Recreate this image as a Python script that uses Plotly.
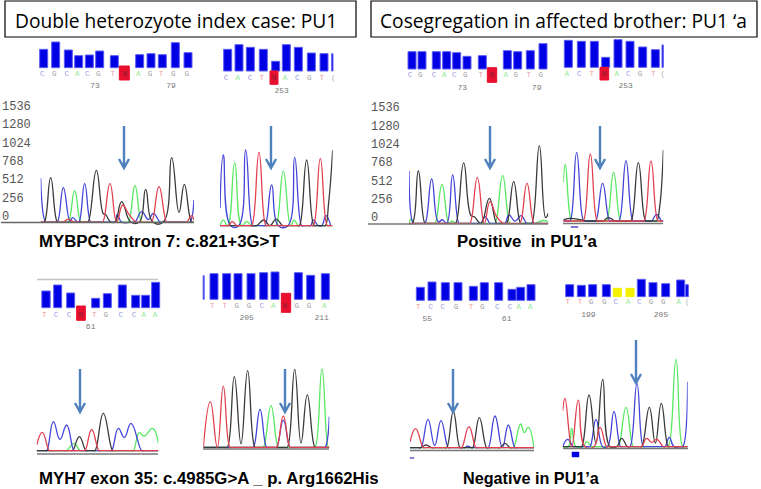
import plotly.graph_objects as go

W, H = 761, 489
RFU_PER_ZOOM = 4.66
INK = {"black": "#3a3a3a", "blue": "#4444d8", "green": "#55e860", "red": "#e2404f"}
LETTER_INK = {"C": "#9c9ce8", "G": "#a0a0a0", "A": "#96ea96", "T": "#ec9c9c", "N": "#802030", "(": "#b0b0b0"}

TICKS = [0, 256, 512, 768, 1024, 1280, 1536]
TITLE_1 = "Double heterozyote index case: PU1"
TITLE_2 = "Cosegregation in affected brother: PU1 ‘a"
CAPTION_1 = "MYBPC3 intron 7: c.821+3G>T"
CAPTION_2 = "Positive  in PU1’a"
CAPTION_3 = "MYH7 exon 35: c.4985G>A _ p. Arg1662His"
CAPTION_4 = "Negative in PU1’a"

# ---- quality bars: position along the read, quality height, base letters
QA_X = [131, 167, 205, 236, 268, 299, 343, 373, 419, 453, 487, 526, 564]
QA_Y = [55, 77, 53, 36, 38, 50, 36, 42, 39, 42, 39, 75, 45]
QA_LX = [127, 163, 200, 232, 262, 295, 338, 375, 415, 450, 483, 520, 560]
QA_L = list("CGCACGTNAGTGG")
QA_NX = [285, 513]
QA_N = ["73", "79"]

QB_X = [683, 717, 751, 790, 827, 859, 895, 934, 972, 997]
QB_Y = [65, 79, 71, 65, 29, 79, 71, 54, 52, 52]
QB_LX = [678, 713, 750, 785, 822, 855, 892, 928, 965, 1000]
QB_L = list("CACTNACGT(")
QB_NX = [845]
QB_N = ["253"]

QC_X = [156, 186, 229, 260, 290, 321, 367, 396, 442, 473, 511, 549]
QC_Y = [52, 52, 52, 52, 49, 38, 40, 44, 55, 52, 55, 76]
QC_LX = [150, 181, 222, 253, 283, 316, 362, 396, 437, 467, 506, 542]
QC_L = list("CGCACGTNAGTG")
QC_NX = [307, 530]
QC_N = ["73", "79"]

QD_X = [625, 664, 703, 737, 774, 810, 848, 886, 908]
QD_Y = [81, 78, 78, 30, 83, 78, 61, 53, 67]
QD_LX = [620, 658, 695, 733, 770, 805, 840, 880, 908]
QD_L = list("ACTNACGT(")
QD_NX = [797]
QD_N = ["253"]

QE_X = [138, 173, 212, 243, 287, 322, 367, 407, 437, 467]
QE_Y = [50, 68, 44, 43, 28, 42, 68, 37, 37, 76]
QE_LX = [133, 168, 207, 242, 283, 317, 362, 402, 431, 465]
QE_L = list("TCCNTGCCAA")
QE_NX = [272]
QE_N = ["61"]

QF_X = [611, 642, 680, 714, 753, 791, 825, 858, 895, 932, 976]
QF_Y = [71, 77, 77, 77, 77, 80, 82, 57, 80, 72, 77]
QF_LX = [637, 674, 710, 747, 785, 820, 855, 890, 927, 973]
QF_L = list("TTGGCANGGA")
QF_NX = [740, 965]
QF_N = ["205", "211"]

QG_X = [91, 126, 166, 204, 250, 283, 326, 366, 392, 423]
QG_Y = [39, 55, 53, 53, 42, 53, 53, 33, 39, 47]
QG_LX = [85, 122, 158, 198, 243, 277, 322, 360, 386, 421]
QG_L = list("TCCGTGCCAA")
QG_NX = [112, 350]
QG_N = ["55", "61"]

QH_X = [539, 574, 608, 649, 682, 720, 754, 789, 827, 872, 891]
QH_Y = [36, 34, 36, 36, 25, 25, 52, 42, 39, 50, 36]
QH_LX = [533, 570, 603, 643, 677, 714, 748, 783, 820, 866, 892]
QH_L = list("TTGGCACGGA(")
QH_NX = [595, 813]
QH_N = ["199", "205"]

# ---- chromatograms: (scan position, signal in RFU) per dye
A_BLACK = [(122,-75),(127,-75),(133,-75),(152,545),(172,-75),(178,-75),(258,-75),(264,-75),(289,648),(310,40),(316,33),(332,-75),(345,-75),(365,210),(392,-75),(418,-75),(437,382),(458,-75),(490,-75),(515,825),(537,60),(553,452),(575,-75),(582,-75)]
A_BLUE = [(122,536),(137,-75),(143,-75),(166,-75),(172,-75),(190,405),(210,-60),(218,-14),(232,-75),(237,-75),(254,461),(272,-75),(278,-75),(338,-75),(345,-75),(352,33),(365,-75),(398,-75),(405,-75),(425,70),(445,-40),(460,47),(480,-75),(486,-75),(563,-75),(570,-75),(582,233)]
A_GREEN = [(122,-75),(198,-75),(205,-75),(224,363),(243,-75),(250,-75),(378,-75),(385,-75),(405,433),(425,-75),(432,-75),(582,-75)]
A_RED = [(122,-75),(184,-75),(190,-75),(205,-33),(222,-75),(228,-75),(302,-75),(308,-75),(330,461),(350,-75),(368,163),(385,47),(408,-75),(414,-75),(449,-75),(455,-75),(477,419),(500,-75),(506,-75),(554,-75),(560,-75),(575,14),(582,-50)]

B_BLACK = [(660,-126),(764,-126),(770,-126),(792,-47),(810,-126),(828,-33),(848,-126),(854,-126),(892,-126),(898,-126),(920,792),(942,-126),(948,-126),(970,-126),(976,-126),(986,200),(998,932)]
B_BLUE = [(660,117),(670,862),(692,-126),(716,-126),(737,932),(758,-126),(764,-126),(789,-126),(795,-126),(815,443),(835,-126),(864,-126),(884,830),(905,-126),(911,-126),(925,-126),(932,-126),(940,-47),(955,-126),(965,-126),(978,14),(992,-126)]
B_GREEN = [(660,-126),(670,-47),(683,-126),(704,755),(725,-126),(740,-70),(755,-126),(761,-126),(822,-126),(828,-126),(850,638),(872,-126),(882,-47),(895,-126),(901,-126),(998,-126)]
B_RED = [(660,-126),(680,-126),(685,-126),(697,-70),(710,-126),(716,-126),(749,-126),(755,-126),(777,899),(798,-126),(804,-126),(934,-126),(940,-126),(961,815),(982,-126),(988,-126),(998,-126)]

C_BLACK = [(162,-70),(172,-70),(190,662),(210,-70),(216,-70),(296,-70),(302,-70),(326,774),(348,40),(358,23),(378,-70),(403,280),(425,-70),(431,-70),(449,-70),(455,-70),(476,513),(497,-70),(503,-70),(524,-70),(530,-70),(553,1016),(572,10),(580,70)]
C_BLUE = [(162,662),(175,-70),(181,-70),(204,-70),(210,-70),(230,550),(250,-50),(262,-20),(275,-70),(293,606),(312,-70),(318,-70),(372,-70),(378,-70),(390,23),(405,-70),(411,-70),(444,-70),(450,-70),(462,47),(480,-40),(498,37),(515,-70),(521,-70),(580,-70)]
C_GREEN = [(162,-70),(168,-10),(178,-70),(184,-70),(234,-70),(240,-70),(261,475),(282,-70),(290,-40),(305,-70),(311,-70),(414,-70),(420,-70),(443,596),(465,-70),(471,-70),(534,-70),(540,-70),(565,-30),(580,-50)]
C_RED = [(162,-70),(339,-70),(345,-70),(367,568),(388,-70),(405,233),(425,23),(445,-70),(451,-70),(489,-70),(495,-70),(516,489),(537,-70),(543,-70),(580,-70)]

D_BLACK = [(625,-20),(650,0),(694,-37),(700,-37),(739,-37),(745,-37),(760,9),(780,-37),(786,-37),(822,-37),(828,-37),(850,778),(872,-37),(878,-37),(899,-37),(905,-37),(914,160),(925,955)]
D_BLUE = [(625,-37),(639,-37),(645,-37),(665,923),(686,-37),(692,-37),(716,-37),(722,-37),(743,489),(764,-37),(770,-37),(786,-37),(792,-37),(813,806),(834,-37),(840,-37),(884,-37),(890,-37),(905,56),(920,-37),(925,-37)]
D_GREEN = [(625,500),(631,755),(650,-37),(656,-37),(749,-37),(755,-37),(776,643),(797,-37),(803,-37),(925,-37)]
D_RED = [(625,-37),(679,-37),(685,-37),(706,899),(727,-37),(733,-37),(861,-37),(867,-37),(888,802),(909,-37),(915,-37),(925,-37)]

E_BLACK = [(110,0),(212,0),(218,0),(238,196),(258,0),(264,0),(279,0),(285,0),(310,522),(338,0),(344,0),(475,0)]
E_BLUE = [(110,0),(134,0),(140,0),(160,405),(180,158),(200,359),(222,0),(228,0),(329,0),(335,0),(355,312),(373,186),(393,382),(425,0),(431,0),(475,0)]
E_GREEN = [(110,0),(194,0),(200,0),(222,103),(240,0),(246,0),(394,0),(400,0),(418,252),(432,205),(458,312),(475,103)]
E_RED = [(110,79),(127,256),(148,0),(154,0),(249,0),(255,0),(275,298),(297,0),(303,0),(475,0)]

F_BLACK = [(610,0),(676,0),(682,0),(703,988),(723,50),(743,1072),(765,0),(771,0),(856,0),(862,0),(884,1090),(903,60),(922,732),(945,0),(951,0),(988,0)]
F_BLUE = [(610,0),(754,0),(760,0),(780,531),(800,0),(806,0),(824,0),(830,0),(850,380),(870,0),(876,0),(969,0),(975,0),(988,429)]
F_GREEN = [(610,0),(784,0),(790,0),(813,582),(835,0),(841,0),(939,0),(945,0),(966,1095),(985,0),(988,0)]
F_RED = [(610,0),(631,638),(652,0),(670,857),(690,0),(696,0),(824,0),(830,0),(850,438),(870,0),(876,0),(988,0)]

G_BLACK = [(60,0),(86,0),(92,0),(108,37),(125,0),(131,0),(164,0),(170,0),(190,503),(210,0),(216,0),(242,0),(248,0),(268,419),(290,0),(296,0),(324,0),(330,0),(345,61),(360,0),(366,0),(432,0)]
G_BLUE = [(60,0),(87,0),(93,0),(114,396),(134,30),(153,377),(175,0),(181,0),(219,0),(225,0),(232,20),(245,0),(251,0),(289,0),(295,0),(315,443),(337,0),(355,317),(375,0),(381,0),(432,0)]
G_GREEN = [(60,0),(364,0),(370,0),(392,331),(403,210),(415,284),(432,0)]
G_RED = [(60,80),(77,266),(100,0),(106,0),(209,0),(215,0),(237,294),(258,0),(264,0),(432,0)]

H_BLACK = [(518,0),(569,0),(575,0),(597,722),(618,50),(638,941),(660,0),(680,0),(695,117),(712,0),(718,0),(749,0),(755,0),(778,550),(796,50),(814,606),(835,0),(841,0),(893,0)]
H_BLUE = [(518,0),(533,103),(550,0),(556,0),(594,0),(600,0),(618,382),(638,0),(652,0),(672,489),(692,0),(698,0),(714,0),(720,0),(741,885),(760,0),(766,0),(819,0),(825,0),(838,130),(852,0),(872,0),(878,0),(893,909)]
H_GREEN = [(518,0),(535,0),(545,256),(558,0),(580,0),(590,70),(605,0),(611,0),(679,0),(685,0),(708,550),(730,0),(736,0),(829,0),(835,0),(858,1221),(878,0),(884,0),(893,0)]
H_RED = [(518,500),(525,676),(545,0),(565,652),(585,0),(612,0),(630,270),(650,0),(656,0),(749,0),(755,0),(770,117),(785,60),(800,103),(820,0),(826,0),(893,0)]

fig = go.Figure()
layout_axes = {}
axis_no = [0]


def new_axes(x0, x1, y_top, y_bot, xr, yr):
    axis_no[0] += 1
    n = axis_no[0]
    sx = "" if n == 1 else str(n)
    common = dict(visible=False, fixedrange=True, showgrid=False, zeroline=False)
    layout_axes["xaxis" + sx] = dict(domain=[x0 / W, x1 / W], range=xr, anchor="y" + sx, **common)
    layout_axes["yaxis" + sx] = dict(domain=[1 - y_bot / H, 1 - y_top / H], range=yr, anchor="x" + sx, **common)
    return "x" + sx, "y" + sx


def quality_panel(ox, oy, zero, xmin, xmax, xs, ys, lx, letters, ly, nx, nums, ny,
                  colors=None, bases=None, widths=None, call_box=None):
    xa, ya = new_axes(ox + xmin / 3, ox + xmax / 3, oy + (zero - 110) / 3, oy + (zero + 75) / 3, [xmin, xmax], [-75, 110])
    colors = colors or {}
    bases = bases or {}
    widths = widths or {}
    n = len(xs)
    fig.add_trace(go.Bar(
        x=xs, y=ys, xaxis=xa, yaxis=ya,
        base=[bases.get(i, 0) for i in range(n)],
        width=[widths.get(i, 24) for i in range(n)],
        marker=dict(color=[colors.get(i, "#0000e4") for i in range(n)],
                    line=dict(color=[colors.get(i, "#5c5cf4") for i in range(n)], width=1)),
        showlegend=False, hoverinfo="skip"))
    if call_box:
        bx, depth, bw = call_box
        fig.add_trace(go.Bar(x=[bx], y=[depth], base=[-depth], width=[bw], xaxis=xa, yaxis=ya,
                             marker=dict(color="#e8102e", line=dict(color="#e8102e", width=1)),
                             showlegend=False, hoverinfo="skip"))
    fig.add_trace(go.Scatter(
        x=lx, y=[ly] * len(lx), xaxis=xa, yaxis=ya, mode="text", text=letters,
        textfont=dict(family="Liberation Mono", size=7.5, color=[LETTER_INK[c] for c in letters]),
        showlegend=False, hoverinfo="skip", cliponaxis=False))
    fig.add_trace(go.Scatter(
        x=nx, y=[ny] * len(nx), xaxis=xa, yaxis=ya, mode="text", text=nums,
        textfont=dict(family="Liberation Mono", size=8, color="#777777"),
        showlegend=False, hoverinfo="skip", cliponaxis=False))


def chrom_panel(ox, oy, zero, xmin, xmax, series):
    zero_px = oy + zero / 3
    top, bot = zero_px - 125, zero_px + 25
    k = RFU_PER_ZOOM * 3
    xa, ya = new_axes(ox + xmin / 3, ox + xmax / 3, top, bot, [xmin, xmax], [(zero_px - bot) * k, (zero_px - top) * k])
    for dye, pts in series:
        fig.add_trace(go.Scatter(
            x=[p[0] for p in pts], y=[p[1] for p in pts], xaxis=xa, yaxis=ya, mode="lines",
            line=dict(color=INK[dye], width=1.3, shape="spline", smoothing=1.3),
            showlegend=False, hoverinfo="skip", cliponaxis=False))


def tick_panel(x_px, zero_px):
    top, bot = zero_px - 125, zero_px + 25
    k = RFU_PER_ZOOM * 3
    xa, ya = new_axes(x_px, x_px + 32, top, bot, [0, 1], [(zero_px - bot) * k, (zero_px - top) * k])
    fig.add_trace(go.Scatter(
        x=[0] * len(TICKS), y=TICKS, xaxis=xa, yaxis=ya, mode="text",
        text=[str(t) for t in TICKS], textposition="middle right",
        textfont=dict(family="Liberation Mono", size=12, color="#555555"),
        showlegend=False, hoverinfo="skip", cliponaxis=False))


RED = "#e8102e"
YEL = "#f4f000"
quality_panel(0, 0, 203, 100, 600, QA_X, QA_Y, QA_LX, QA_L, -19, QA_NX, QA_N, -54,
              colors={7: RED}, bases={7: -37}, widths={7: 30})
quality_panel(0, 0, 213, 660, 1005, QB_X, QB_Y, QB_LX, QB_L, -22, QB_NX, QB_N, -59,
              widths={9: 4}, call_box=(822, 40, 24))
quality_panel(360, 0, 207, 130, 580, QC_X, QC_Y, QC_LX, QC_L, -19, QC_NX, QC_N, -58,
              colors={7: RED}, bases={7: -40}, widths={7: 28})
quality_panel(360, 0, 202, 600, 915, QD_X, QD_Y, QD_LX, QD_L, -21, QD_NX, QD_N, -56,
              widths={8: 4}, call_box=(733, 38, 26))
quality_panel(0, 260, 143, 110, 490, QE_X, QE_Y, QE_LX, QE_L, -22, QE_NX, QE_N, -57,
              colors={3: RED}, bases={3: -38}, widths={3: 26, 0: 25})
quality_panel(0, 260, 118, 600, 1000, QF_X, QF_Y, QF_LX, QF_L, -20, QF_NX, QF_N, -57,
              colors={7: RED}, bases={7: -39}, widths={0: 3, 7: 28})
quality_panel(390, 270, 91, 70, 440, QG_X, QG_Y, QG_LX, QG_L, -20, QG_NX, QG_N, -57)
quality_panel(390, 270, 80, 520, 900, QH_X, QH_Y, QH_LX, QH_L, -15, QH_NX, QH_N, -55,
              colors={4: YEL, 5: YEL}, widths={10: 8})

chrom_panel(0, 95, 365, 122, 582, [("green", A_GREEN), ("blue", A_BLUE), ("black", A_BLACK), ("red", A_RED)])
chrom_panel(0, 95, 365, 660, 998, [("green", B_GREEN), ("blue", B_BLUE), ("black", B_BLACK), ("red", B_RED)])
chrom_panel(355, 95, 370, 162, 580, [("green", C_GREEN), ("blue", C_BLUE), ("black", C_BLACK), ("red", C_RED)])
chrom_panel(355, 95, 370, 625, 925, [("green", D_GREEN), ("blue", D_BLUE), ("black", D_BLACK), ("red", D_RED)])
chrom_panel(0, 360, 272, 110, 475, [("green", E_GREEN), ("blue", E_BLUE), ("black", E_BLACK), ("red", E_RED)])
chrom_panel(0, 360, 262, 610, 988, [("green", F_GREEN), ("blue", F_BLUE), ("black", F_BLACK), ("red", F_RED)])
chrom_panel(390, 350, 293, 60, 432, [("green", G_GREEN), ("blue", G_BLUE), ("black", G_BLACK), ("red", G_RED)])
chrom_panel(390, 350, 290, 518, 893, [("green", H_GREEN), ("blue", H_BLUE), ("black", H_BLACK), ("red", H_RED)])

tick_panel(2, 217)
tick_panel(371, 218.3)

shapes = []


def px(x):
    return x / W


def py(y):
    return 1 - y / H


def rule(x0, x1, y, color, width=1.5):
    shapes.append(dict(type="line", xref="paper", yref="paper", x0=px(x0), x1=px(x1), y0=py(y), y1=py(y),
                       line=dict(color=color, width=width)))


def box(x0, x1, y0, y1, fill=None, line="#000000", width=1.2):
    shapes.append(dict(type="rect", xref="paper", yref="paper", x0=px(x0), x1=px(x1), y0=py(y0), y1=py(y1),
                       fillcolor=fill or "rgba(0,0,0,0)", line=dict(color=line, width=width)))


def arrow(x, y0, y1):
    path = (f"M {x / W},{1 - y0 / H} L {x / W},{1 - y1 / H} "
            f"M {(x - 5) / W},{1 - (y1 - 9) / H} L {x / W},{1 - y1 / H} L {(x + 5) / W},{1 - (y1 - 9) / H}")
    shapes.append(dict(type="path", xref="paper", yref="paper", path=path,
                       line=dict(color="#4f81bd", width=2.4)))


box(5, 356, 1, 37)
box(371, 757, 1, 37)
rule(1, 194, 222.5, "#666666")
rule(368, 548, 224, "#777777")
rule(563, 663, 223.5, "#777777")
rule(37, 158, 454, "#777777")
rule(203, 329, 449, "#777777")
rule(410, 534, 450.5, "#777777")
rule(563, 688, 448.5, "#777777")
rule(37, 158, 279.5, "#c4c4c4")
box(572, 579, 452, 457, fill="#0000e4", line="#0000e4", width=0.5)
box(410, 414, 457.5, 458.5, fill="#6060c0", line="#6060c0", width=0.5)
box(571, 578, 226.5, 227.5, fill="#5050c0", line="#5050c0", width=0.5)
for ax_x, a0, a1 in [(124, 126, 168), (271, 126, 168), (490, 126, 168), (600, 126, 168),
                     (80, 369, 412), (285, 369, 412), (453, 369, 412), (636, 340, 383)]:
    arrow(ax_x, a0, a1)


def label(text, x, y, size, bold=False, family="Open Sans"):
    return dict(text=f"<b>{text}</b>" if bold else text, x=px(x), y=py(y), xref="paper", yref="paper",
                xanchor="left", yanchor="middle", showarrow=False,
                font=dict(family=family, size=size, color="#000000"))


annotations = [
    label(TITLE_1, 13, 20, 19.2),
    label(TITLE_2, 378, 20, 19.2),
    label(CAPTION_1, 37, 242, 16.8, True, "Liberation Sans"),
    label(CAPTION_2, 455, 242, 16.8, True, "Liberation Sans"),
    label(CAPTION_3, 37, 478, 16.8, True, "Liberation Sans"),
    label(CAPTION_4, 461, 478, 16.2, True, "Liberation Sans"),
]

fig.update_layout(
    width=W, height=H, margin=dict(l=0, r=0, t=0, b=0), autosize=False,
    paper_bgcolor="#ffffff", plot_bgcolor="rgba(0,0,0,0)",
    barmode="overlay", showlegend=False,
    shapes=shapes, annotations=annotations, **layout_axes)

fig.write_html("out.html", config={"displayModeBar": False},
               post_script="document.body.style.margin='0';document.body.style.overflow='hidden';")
